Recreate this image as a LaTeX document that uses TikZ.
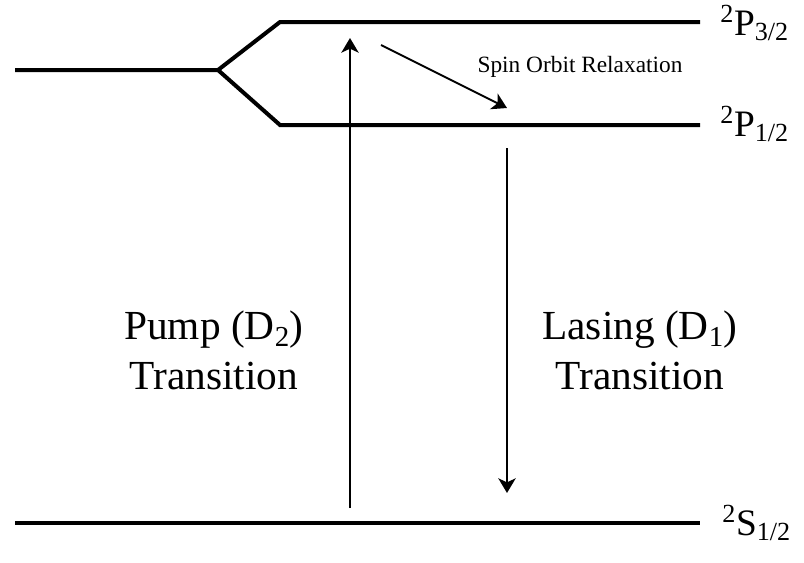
\documentclass[tikz,border=0pt]{standalone}
\usepackage{fontspec}
\setmainfont{Liberation Serif}
\usetikzlibrary{arrows.meta}

\begin{document}
\begin{tikzpicture}[
  x=0.75pt, y=-0.75pt,
  energy/.style={line width=3pt},
  trans/.style={line width=1.5pt, -{Stealth[length=11pt, width=13pt, inset=3pt]}},
  term/.style={anchor=base west, inner sep=0pt, font=\fontsize{28}{30}\selectfont},
  translabel/.style={align=center, inner sep=0pt, font=\fontsize{31}{37.5}\selectfont}
]
\useasboundingbox (0,0) rectangle (804,562);

% levels
\coordinate (s0) at (15,70);
\coordinate (fork) at (218,70);
\coordinate (u0) at (280,22);
\coordinate (u1) at (700,22);
\coordinate (d0) at (280,125);
\coordinate (d1) at (700,125);
\coordinate (g0) at (15,523);
\coordinate (g1) at (700,523);

\draw[energy] (s0) -- (fork) -- (u0) -- (u1);
\draw[energy] (fork) -- (d0) -- (d1);
\draw[energy] (g0) -- (g1);

\node[term] (p32) at (720,35) {\textsuperscript{2}P\textsubscript{3/2}};
\node[term] (p12) at (720,136) {\textsuperscript{2}P\textsubscript{1/2}};
\node[term] (s12) at (722,535) {\textsuperscript{2}S\textsubscript{1/2}};

% transitions
\coordinate (pumpA) at (350,508);
\coordinate (pumpB) at (350,38);
\coordinate (spinA) at (381,45);
\coordinate (spinB) at (507,108);
\coordinate (laseA) at (507,148);
\coordinate (laseB) at (507,493);

\draw[trans] (pumpA) -- (pumpB);
\draw[trans] (spinA) -- (spinB);
\draw[trans] (laseA) -- (laseB);

\node[font=\fontsize{17.5}{20}\selectfont, inner sep=0pt] (spin) at (580,67) {Spin Orbit Relaxation};
\node[translabel] (pump) at (214,350) {Pump (D\textsubscript{2})\\Transition};
\node[translabel] (lase) at (640,350) {Lasing (D\textsubscript{1})\\Transition};
\end{tikzpicture}
\end{document}
